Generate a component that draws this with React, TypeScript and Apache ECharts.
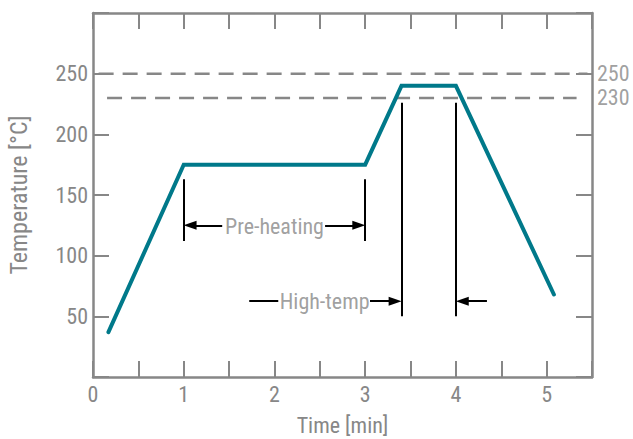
import React, { useEffect, useRef } from "react";
import * as echarts from "echarts";

const profileTimes = [0.17, 1, 3, 3.4, 4, 5.08];
const profileTemps = [37, 175, 175, 240, 240, 68];
const limitTemps = [250, 230];
const xTicksMax = 5.5;
const yTicksMax = 300;
const phaseLabels = ["Pre-heating", "High-temp"];

const FONT = "'Liberation Sans Narrow', 'Arial Narrow', 'Roboto Condensed', 'DejaVu Sans Condensed', sans-serif";
const GRAY = "#878787";
const TEAL = "#00798A";

export default function App() {
  const ref = useRef<HTMLDivElement>(null);
  useEffect(() => {
    if (!ref.current) return;
    const chart = echarts.init(ref.current, undefined, { renderer: "svg" });
    const profile = profileTimes.map((t, i) => [t, profileTemps[i]]);
    const txt = { fontFamily: FONT, fontSize: 22, color: GRAY };
    const vLine = (x: number, y1: number, y2: number) => [
      { coord: [x, y1], symbol: "none" },
      { coord: [x, y2], symbol: "none" },
    ];
    const arrow = (x1: number, x2: number, y: number) => [
      { coord: [x1, y], symbol: "none" },
      { coord: [x2, y], symbol: "triangle", symbolSize: [9, 13] },
    ];
    const hLine = (x1: number, x2: number, y: number) => [
      { coord: [x1, y], symbol: "none" },
      { coord: [x2, y], symbol: "none" },
    ];
    const axisCommon = {
      min: 0,
      splitLine: { show: false },
      axisLine: { show: true, onZero: false, lineStyle: { color: GRAY, width: 2.5 } },
      axisTick: { show: true, inside: true, length: 16, lineStyle: { color: GRAY, width: 2 } },
    };
    chart.setOption({
      animation: false,
      grid: { left: 93, right: 41, top: 13, bottom: 62, containLabel: false, outerBoundsMode: "none" },
      xAxis: [
        {
          ...axisCommon,
          type: "value",
          max: xTicksMax,
          interval: 0.5,
          name: "Time [min]",
          nameLocation: "middle",
          nameGap: 37,
          nameTextStyle: txt,
          axisLabel: {
            ...txt,
            margin: 6,
            formatter: (v: number) => (Number.isInteger(v) ? String(v) : ""),
          },
        },
        {
          ...axisCommon,
          type: "value",
          position: "top",
          max: xTicksMax,
          interval: 0.5,
          axisLabel: { show: false },
        },
      ],
      yAxis: [
        {
          ...axisCommon,
          type: "value",
          max: yTicksMax,
          interval: 50,
          name: "Temperature [°C]",
          nameLocation: "middle",
          nameGap: 62,
          nameTextStyle: { ...txt, fontSize: 24 },
          axisLabel: {
            ...txt,
            margin: 5,
            formatter: (v: number) => (v === 0 || v === yTicksMax ? "" : String(v)),
          },
        },
        {
          ...axisCommon,
          type: "value",
          position: "right",
          max: yTicksMax,
          interval: 50,
          axisLabel: { show: false },
        },
      ],
      series: [
        {
          type: "line",
          data: [[0.062, limitTemps[0]], [5.45, limitTemps[0]]],
          symbol: "none",
          silent: true,
          lineStyle: { color: GRAY, width: 2.5, type: [15, 9] },
        },
        {
          type: "line",
          data: [[0.155, limitTemps[1]], [5.33, limitTemps[1]]],
          symbol: "none",
          silent: true,
          lineStyle: { color: GRAY, width: 2.5, type: [15, 9] },
        },
        {
          type: "line",
          data: profile,
          symbol: "none",
          silent: true,
          lineStyle: { color: TEAL, width: 4, cap: "round", join: "miter" },
          markLine: {
            silent: true,
            animation: false,
            label: { show: false },
            lineStyle: { color: "#000", width: 2, type: "solid" },
            itemStyle: { color: "#000" },
            data: [
              vLine(1, 112, 163),
              vLine(3, 112, 163),
              vLine(3.4, 50, 226),
              vLine(4, 50, 226),
              arrow(1.424, 1.07, 125),
              arrow(2.558, 2.93, 125),
              hLine(1.722, 2.042, 62.5),
              arrow(3.053, 3.33, 62.5),
              arrow(4.342, 4.07, 62.5),
            ],
          },
        },
        {
          type: "scatter",
          silent: true,
          symbolSize: 0,
          data: [
            { value: [2.0, 124], name: phaseLabels[0] },
            { value: [2.553, 62.5], name: phaseLabels[1] },
          ],
          label: {
            show: true,
            position: "inside",
            formatter: (p: any) => p.name,
            ...txt,
          },
        },
        {
          type: "scatter",
          silent: true,
          symbolSize: 0,
          clip: false,
          data: limitTemps.map((v) => ({ value: [xTicksMax, v], name: String(v) })),
          label: {
            show: true,
            position: "right",
            distance: 5,
            formatter: (p: any) => p.name,
            ...txt,
          },
        },
      ],
    });
    return () => chart.dispose();
  }, []);
  return (
    <div
      ref={ref}
      style={{ position: "fixed", left: 0, top: 0, width: 633, height: 439, background: "#fff" }}
    />
  );
}
